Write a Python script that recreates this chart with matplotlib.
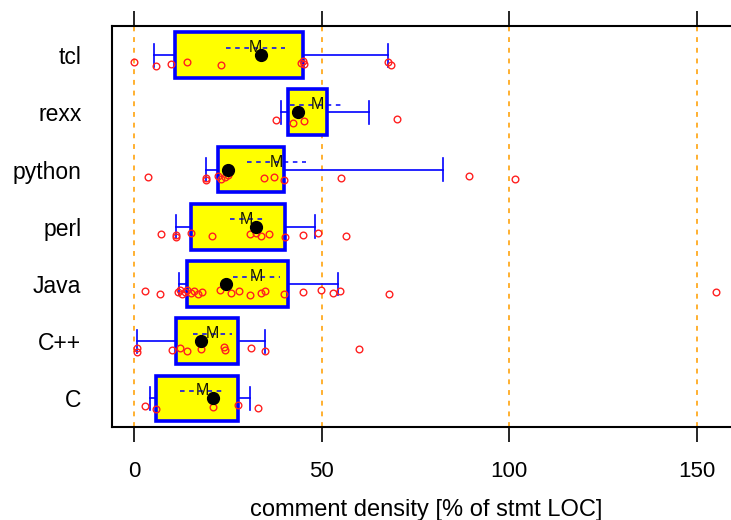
import numpy as np
import matplotlib
matplotlib.use("Agg")
import matplotlib.pyplot as plt

plt.rcParams['font.family'] = ['Liberation Sans', 'DejaVu Sans']

# Categories (bottom to top)
languages = ["C", "C++", "Java", "perl", "python", "rexx", "tcl"]

# Comment density values (% of stmt LOC)
c_vals = [3.0, 5.9, 21.0, 27.8, 33.0]
cpp_vals = [0.7, 0.9, 10.0, 12.2, 14.0, 17.9, 24.0, 24.2, 31.1, 34.9, 60.0]
java_vals = [3.0, 7.0, 11.8, 12.3, 12.8, 13.6, 14.2, 15.1, 16.0, 17.1, 18.0,
             23.0, 25.8, 28.0, 31.0, 33.8, 34.9, 39.9, 44.9, 49.9, 53.1,
             54.9, 67.9, 155.1]
perl_vals = [7.1, 11.2, 11.3, 15.1, 20.7, 30.8, 32.6, 33.9, 35.9, 40.2,
             44.9, 48.9, 56.5]
python_vals = [3.6, 19.2, 19.3, 22.5, 23.2, 24.2, 25.1, 34.6, 37.4, 40.0,
               55.1, 89.2, 101.4]
rexx_vals = [37.7, 42.3, 45.3, 70.2]
tcl_vals = [0.1, 5.9, 9.8, 14.0, 23.1, 44.6, 45.0, 45.2, 67.6, 68.6]

groups = [c_vals, cpp_vals, java_vals, perl_vals, python_vals, rexx_vals, tcl_vals]

xticks = [0, 50, 100, 150]
xlabel = "comment density [% of stmt LOC]"

W, H = 731, 520
fig = plt.figure(figsize=(W / 100, H / 100), dpi=100)
ax_left, ax_right, ax_top, ax_bot = 112, 740, 26.5, 427
ax = fig.add_axes([ax_left / W, 1 - ax_bot / H, (ax_right - ax_left) / W, (ax_bot - ax_top) / H])

px_per_unit = (697 - 134) / 150.0
xmin = (ax_left - 134) / px_per_unit
xmax = (ax_right - 134) / px_per_unit
ax.set_xlim(xmin, xmax)
ax.set_ylim(0.5, 7.5)

for xv in xticks:
    ax.axvline(xv, color='#FFB030', lw=1.4, ls=(0, (2.5, 3.0)), zorder=0)

box_h = 0.8
cap_h = 0.2
for i, vals in enumerate(groups):
    y = i + 1
    v = np.array(vals, dtype=float)
    q10, q25, med, q75, q90 = np.percentile(v, [10, 25, 50, 75, 90])
    mean = v.mean()
    se = v.std(ddof=1) / np.sqrt(len(v))
    # whiskers
    ax.plot([q10, q25], [y, y], color='blue', lw=1.2, zorder=2)
    ax.plot([q75, q90], [y, y], color='blue', lw=1.2, zorder=2)
    ax.plot([q10, q10], [y - cap_h, y + cap_h], color='blue', lw=1.2, zorder=2)
    ax.plot([q90, q90], [y - cap_h, y + cap_h], color='blue', lw=1.2, zorder=2)
    # box
    rect = plt.Rectangle((q25, y - box_h / 2), q75 - q25, box_h,
                         facecolor='yellow', edgecolor='blue', lw=2.6, zorder=3)
    ax.add_patch(rect)
    # points with deterministic vertical jitter
    n = len(v)
    jit = -0.10 - 0.09 * ((np.arange(n) * 0.618 + 0.3) % 1.0)
    ax.plot(v, y + jit, 'o', mfc='none', mec='#FF2020', ms=4.8, mew=1.0, zorder=4)
    # mean +/- se
    ym = y + 0.13
    ax.plot([mean - se, mean + se], [ym, ym], color='blue', lw=1.1,
            ls=(0, (3, 3)), zorder=5)
    ax.text(mean, ym, "M", ha='center', va='center', fontsize=11.5,
            color='#1a1a00', zorder=6)
    # median
    ax.plot([med], [y], 'o', color='black', ms=8.5, zorder=7)

ax.set_xticks(xticks)
ax.set_xticklabels([str(t) for t in xticks])
ax.set_yticks(range(1, len(languages) + 1))
ax.set_yticklabels(languages)
ax.tick_params(axis='x', which='both', direction='out', length=10.5, width=1.2,
               top=True, labeltop=False, labelsize=16, pad=14)
ax.tick_params(axis='y', length=0, labelsize=16.5, pad=22)
ax.set_xlabel(xlabel, fontsize=17, labelpad=12)
for s in ax.spines.values():
    s.set_linewidth(1.5)

fig.savefig("out.png", dpi=100)
